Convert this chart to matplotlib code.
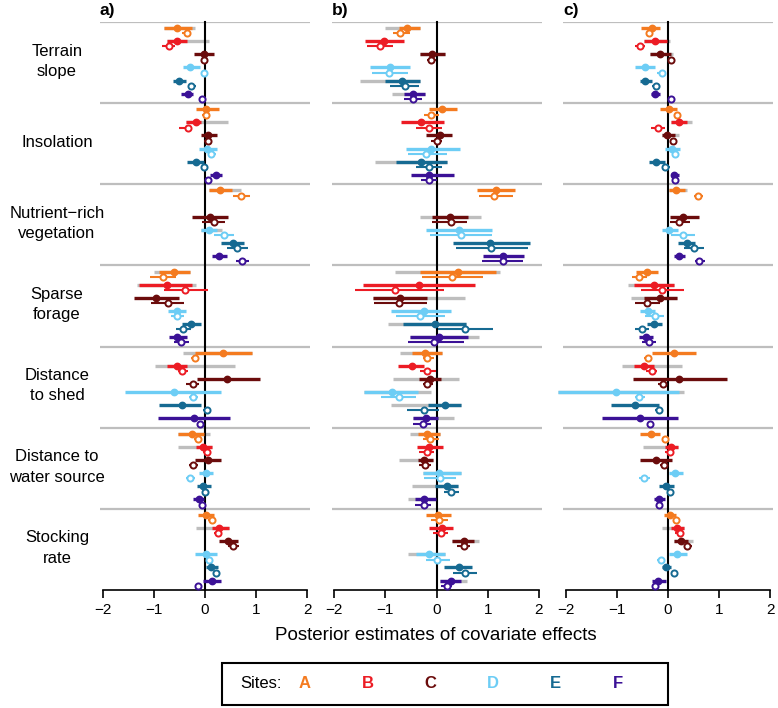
import matplotlib.pyplot as plt
import matplotlib.patches as mpatches

plt.rcParams['font.family'] = ['Liberation Sans', 'DejaVu Sans']

covariates = ['Terrain\nslope', 'Insolation', 'Nutrient\u2212rich\nvegetation', 'Sparse\nforage',
              'Distance\nto shed', 'Distance to\nwater source', 'Stocking\nrate']
sites = ['A', 'B', 'C', 'D', 'E', 'F']
site_colors = ['#F47B20', '#EC1C24', '#6B0C0C', '#6DCDF5', '#166A92', '#3B1196']
panel_names = ['a)', 'b)', 'c)']
xticks = [-2, -1, 0, 1, 2]

# (mean, lower, upper) -- rows = covariates, columns = sites A..F ; None = not estimated
a_filled = [
    [(-0.54, -0.80, -0.25), (-0.55, -0.75, -0.36), (-0.02, -0.21, 0.18), (-0.29, -0.43, -0.10), (-0.50, -0.62, -0.38), (-0.34, -0.46, -0.23)],
    [(0.01, -0.18, 0.27), (-0.18, -0.38, -0.08), (0.05, -0.08, 0.24), (0.03, -0.12, 0.23), (-0.17, -0.36, -0.01), (0.22, 0.10, 0.34)],
    [(0.29, 0.08, 0.53), None, (0.09, -0.25, 0.45), (0.08, -0.08, 0.24), (0.55, 0.32, 0.77), (0.27, 0.13, 0.42)],
    [(-0.60, -0.90, -0.29), (-0.75, -1.29, -0.25), (-0.95, -1.38, -0.51), (-0.55, -0.73, -0.38), (-0.27, -0.44, -0.08), (-0.55, -0.70, -0.36)],
    [(0.36, -0.19, 0.92), (-0.55, -0.74, -0.36), (0.43, -0.16, 1.08), (-0.61, -1.57, 0.31), (-0.45, -0.89, -0.07), (-0.22, -0.92, 0.49)],
    [(-0.25, -0.52, -0.01), (-0.03, -0.18, 0.14), (0.05, -0.19, 0.31), (0.02, -0.11, 0.16), (-0.03, -0.16, 0.12), (-0.11, -0.23, -0.01)],
    [(0.02, -0.14, 0.18), (0.28, 0.14, 0.47), (0.45, 0.28, 0.64), (0.02, -0.19, 0.23), (0.12, 0.02, 0.25), (0.13, -0.03, 0.31)],
]
a_open = [
    [(-0.36, -0.44, -0.28), (-0.71, -0.84, -0.59), (-0.01, -0.06, 0.05), (-0.02, -0.08, 0.05), (-0.27, -0.34, -0.18), (-0.06, -0.10, -0.02)],
    [(0.02, -0.05, 0.10), (-0.34, -0.50, -0.25), (0.05, -0.02, 0.11), (0.12, 0.05, 0.21), (-0.01, -0.06, 0.06), (0.06, 0.01, 0.11)],
    [(0.71, 0.55, 0.88), None, (0.18, -0.05, 0.40), (0.38, 0.18, 0.56), (0.63, 0.43, 0.84), (0.73, 0.60, 0.86)],
    [(-0.82, -1.07, -0.57), (-0.40, -0.81, 0.05), (-0.73, -1.05, -0.41), (-0.54, -0.67, -0.41), (-0.42, -0.57, -0.27), (-0.47, -0.60, -0.31)],
    [(-0.20, -0.27, -0.11), (-0.44, -0.53, -0.34), (-0.24, -0.38, -0.11), (-0.23, -0.32, -0.14), (0.03, -0.03, 0.08), (-0.09, -0.14, -0.05)],
    [(-0.13, -0.21, -0.05), (0.03, -0.03, 0.10), (-0.23, -0.32, -0.14), (-0.29, -0.38, -0.19), (0.00, -0.04, 0.04), (-0.05, -0.09, 0.00)],
    [(0.14, 0.05, 0.21), (0.26, 0.18, 0.34), (0.54, 0.44, 0.66), (0.08, 0.02, 0.16), (0.21, 0.15, 0.28), (-0.13, -0.18, -0.08)],
]
a_grey = [
    [(-0.80, -0.20), (-0.75, 0.08), None, None, None, None],
    [None, (-0.38, 0.45), None, None, None, None],
    [(0.08, 0.70), None, None, (-0.08, 0.34), None, None],
    [(-0.99, -0.29), (-1.32, -0.18), None, None, None, None],
    [(-0.42, 0.92), (-0.97, 0.59), None, None, None, None],
    [(-0.52, 0.09), (-0.53, 0.14), None, None, None, None],
    [None, (-0.18, 0.47), None, None, None, None],
]

b_filled = [
    [(-0.58, -0.74, -0.33), (-1.03, -1.39, -0.64), (-0.09, -0.32, 0.17), (-0.90, -1.29, -0.51), (-0.68, -1.00, -0.33), (-0.45, -0.64, -0.22)],
    [(0.10, -0.15, 0.40), (-0.30, -0.70, 0.15), (0.07, -0.20, 0.30), (-0.10, -0.60, 0.45), (-0.30, -0.80, 0.20), (-0.15, -0.50, 0.35)],
    [(1.16, 0.79, 1.53), None, (0.27, -0.09, 0.62), (0.43, -0.20, 1.08), (1.05, 0.33, 1.82), (1.29, 0.90, 1.71)],
    [(0.42, -0.32, 1.16), (-0.34, -1.44, 0.75), (-0.72, -1.24, -0.19), (-0.24, -0.89, 0.28), (-0.03, -0.66, 0.58), (0.04, -0.51, 0.62)],
    [(-0.23, -0.47, 0.10), (-0.47, -0.76, -0.24), (-0.12, -0.34, 0.08), (-0.86, -1.41, -0.37), (0.16, -0.16, 0.47), (-0.21, -0.45, 0.02)],
    [(-0.18, -0.37, 0.07), (-0.14, -0.38, 0.12), (-0.24, -0.37, -0.06), (0.05, -0.27, 0.47), (0.20, -0.03, 0.42), (-0.24, -0.42, -0.01)],
    [(0.02, -0.21, 0.28), (0.10, -0.14, 0.33), (0.53, 0.31, 0.73), (-0.14, -0.40, 0.16), (0.44, 0.15, 0.70), (0.28, 0.07, 0.47)],
]
b_open = [
    [(-0.71, -0.85, -0.51), (-1.10, -1.36, -0.84), (-0.11, -0.19, -0.01), (-0.92, -1.26, -0.55), (-0.61, -0.90, -0.35), (-0.46, -0.64, -0.29)],
    [(-0.10, -0.25, 0.05), (-0.15, -0.40, 0.10), (0.00, -0.10, 0.10), (-0.20, -0.55, 0.20), (-0.15, -0.40, 0.10), (-0.15, -0.30, 0.00)],
    [(1.12, 0.82, 1.49), None, (0.28, -0.09, 0.60), (0.47, -0.12, 1.08), (1.06, 0.38, 1.78), (1.29, 0.88, 1.69)],
    [(0.30, -0.29, 0.90), (-0.81, -1.60, 0.14), (-0.73, -1.23, -0.19), (-0.32, -0.79, 0.17), (0.56, 0.02, 1.11), (-0.04, -0.56, 0.53)],
    [(-0.18, -0.27, -0.05), (-0.18, -0.32, -0.01), (-0.18, -0.27, -0.06), (-0.74, -1.08, -0.40), (-0.24, -0.58, 0.05), (-0.27, -0.45, -0.10)],
    [(-0.12, -0.27, 0.05), (-0.19, -0.34, -0.05), (-0.23, -0.34, -0.11), (0.07, -0.24, 0.38), (0.28, 0.15, 0.44), (-0.25, -0.42, -0.10)],
    [(0.05, -0.11, 0.23), (0.08, -0.06, 0.23), (0.53, 0.40, 0.66), (0.01, -0.21, 0.27), (0.55, 0.33, 0.80), (0.20, 0.08, 0.31)],
]
b_grey = [
    [(-1.00, -0.33), None, (-0.32, 0.17), None, (-1.49, -0.33), (-0.87, -0.22)],
    [None, None, None, None, (-1.20, 0.20), None],
    [None, None, (-0.32, 0.86), None, None, None],
    [(-0.82, 1.24), None, (-1.24, 0.56), None, (-0.94, 0.58), (-0.51, 0.82)],
    [(-0.71, 0.10), None, (-0.84, 0.44), (-1.41, -0.10), (-0.88, 0.47), (-0.45, 0.34)],
    [(-0.51, 0.07), None, (-0.73, -0.06), (-0.27, 0.47), (-0.47, 0.42), (-0.56, -0.01)],
    [None, None, (0.31, 0.83), (-0.56, 0.16), None, (0.07, 0.60)],
]

c_filled = [
    [(-0.32, -0.52, -0.15), (-0.25, -0.47, -0.02), (-0.16, -0.36, 0.05), (-0.45, -0.65, -0.25), (-0.44, -0.55, -0.31), (-0.25, -0.34, -0.15)],
    [(0.01, -0.15, 0.18), (0.21, 0.05, 0.37), (-0.02, -0.12, 0.13), (0.08, -0.06, 0.24), (-0.23, -0.38, -0.06), (0.12, 0.05, 0.22)],
    [(0.16, 0.01, 0.34), None, (0.29, 0.03, 0.60), (0.01, -0.12, 0.19), (0.37, 0.19, 0.53), (0.22, 0.11, 0.34)],
    [(-0.41, -0.62, -0.19), (-0.27, -0.67, 0.11), (-0.15, -0.47, 0.18), (-0.39, -0.54, -0.25), (-0.27, -0.41, -0.12), (-0.43, -0.56, -0.29)],
    [(0.11, -0.31, 0.55), (-0.46, -0.67, -0.28), (0.22, -0.69, 1.15), (-1.01, -2.14, 0.21), (-0.64, -1.12, -0.17), (-0.54, -1.29, 0.19)],
    [(-0.34, -0.54, -0.15), (0.06, -0.05, 0.19), (-0.23, -0.54, 0.08), (0.13, 0.01, 0.29), (-0.04, -0.18, 0.11), (-0.18, -0.28, -0.06)],
    [(0.03, -0.08, 0.16), (0.18, 0.05, 0.32), (0.26, 0.11, 0.40), (0.18, 0.01, 0.37), (-0.03, -0.12, 0.06), (-0.19, -0.32, -0.04)],
]
c_open = [
    [(-0.38, -0.43, -0.31), (-0.55, -0.65, -0.44), (0.05, 0.00, 0.10), (-0.12, -0.21, -0.04), (-0.23, -0.31, -0.15), (0.05, 0.01, 0.09)],
    [(0.18, 0.11, 0.24), (-0.19, -0.34, -0.05), (0.10, 0.03, 0.18), (0.14, 0.08, 0.21), (-0.05, -0.12, 0.03), (0.14, 0.10, 0.18)],
    [(0.58, 0.50, 0.68), None, (0.22, 0.03, 0.42), (0.29, 0.06, 0.53), (0.51, 0.32, 0.71), (0.61, 0.53, 0.73)],
    [(-0.56, -0.71, -0.41), (-0.12, -0.52, 0.31), (-0.41, -0.64, -0.15), (-0.26, -0.44, -0.08), (-0.51, -0.64, -0.38), (-0.38, -0.51, -0.23)],
    [(-0.40, -0.47, -0.32), (-0.32, -0.43, -0.21), (-0.10, -0.19, -0.02), (-0.57, -0.65, -0.45), (-0.18, -0.25, -0.12), (-0.36, -0.41, -0.31)],
    [(-0.06, -0.12, -0.01), (0.03, -0.06, 0.11), (-0.08, -0.15, 0.00), (-0.47, -0.57, -0.36), (0.03, -0.01, 0.07), (-0.17, -0.21, -0.13)],
    [(0.16, 0.11, 0.22), (0.23, 0.14, 0.32), (0.38, 0.31, 0.47), (-0.13, -0.21, -0.05), (0.11, 0.07, 0.15), (-0.25, -0.30, -0.19)],
]
c_grey = [
    [None, (-0.47, 0.03), (-0.36, 0.09), None, None, None],
    [None, (0.05, 0.47), (-0.12, 0.21), None, None, None],
    [(0.01, 0.37), None, None, None, None, None],
    [None, (-0.78, 0.11), (-0.73, 0.18), None, None, None],
    [None, (-0.90, 0.27), None, (-2.14, 0.31), None, None],
    [None, (-0.49, 0.19), None, None, None, None],
    [None, (-0.12, 0.32), (0.11, 0.48), None, None, None],
]

panels = [(a_filled, a_open, a_grey), (b_filled, b_open, b_grey), (c_filled, c_open, c_grey)]

W, H = 778, 708
fig = plt.figure(figsize=(W / 100, H / 100), dpi=100)
lefts = [100, 331.5, 563]
grey = '#BEBEBE'

for p, (filled, opened, greys) in enumerate(panels):
    ax = fig.add_axes([lefts[p] / W, 1 - 590 / H, 210 / W, 568 / H])
    ax.set_xlim(-2.05, 2.05)
    ax.set_ylim(84, 0)
    for g in range(7):
        ax.axhline(12 * g, color=grey, lw=1.6, zorder=0)
    ax.plot([0, 0], [0, 84], color='black', lw=1.5, zorder=2, clip_on=False)

    for g in range(7):
        for s in range(6):
            col = site_colors[s]
            yf = 12 * g + 0.9 + 1.94 * s
            yo = yf + 0.78
            if greys[g][s] is not None:
                ax.plot(greys[g][s], [yf, yf], color=grey, lw=2.4, solid_capstyle='butt',
                        zorder=1, clip_on=False)
            f = filled[g][s]
            if f is not None:
                ax.plot([f[1], f[2]], [yf, yf], color=col, lw=2.4, solid_capstyle='butt',
                        zorder=3, clip_on=False)
                ax.plot(f[0], yf, 'o', ms=4.6, color=col, zorder=4, clip_on=False)
            o = opened[g][s]
            if o is not None:
                ax.plot([o[1], o[2]], [yo, yo], color=col, lw=1.5, solid_capstyle='butt',
                        zorder=3, clip_on=False)
                ax.plot(o[0], yo, 'o', ms=4.4, mfc='white', mec=col, mew=1.4, zorder=4,
                        clip_on=False)

    for side in ['left', 'top', 'right']:
        ax.spines[side].set_visible(False)
    ax.spines['bottom'].set_bounds(-2, 2)
    ax.spines['bottom'].set_linewidth(1.2)
    ax.set_yticks([])
    ax.set_xticks(xticks)
    ax.set_xticklabels(['\u2212' + str(-t) if t < 0 else str(t) for t in xticks])
    ax.tick_params(axis='x', length=6, width=1.2, labelsize=11, pad=3)

    fig.text(lefts[p] / W, 1 - 11 / H, panel_names[p], fontsize=12.5, fontweight='bold',
             ha='left', va='center')

    if p == 0:
        for g, name in enumerate(covariates):
            ax.text(-2.89, 12 * g + 5.8, name, ha='center', va='center', fontsize=12,
                    linespacing=1.45, clip_on=False)

fig.text(436 / W, 1 - 635 / H, 'Posterior estimates of covariate effects', ha='center',
         va='center', fontsize=13.5)

box = mpatches.Rectangle((222 / W, 1 - 705 / H), 446 / W, 42 / H, transform=fig.transFigure,
                         fill=False, lw=1.5, edgecolor='black')
fig.patches.append(box)
fig.text(240 / W, 1 - 684 / H, 'Sites:', ha='left', va='center', fontsize=12)
for s, name in enumerate(sites):
    fig.text((305 + 62.5 * s) / W, 1 - 684 / H, name, ha='center', va='center', fontsize=12,
             fontweight='bold', color=site_colors[s])

fig.savefig('out.png', dpi=100)
